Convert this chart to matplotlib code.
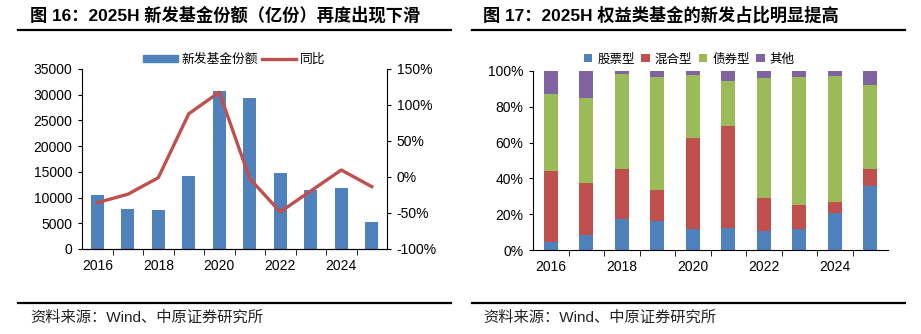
import matplotlib
matplotlib.use("Agg")
import matplotlib.pyplot as plt
from matplotlib.lines import Line2D
from matplotlib.patches import Patch

plt.rcParams['font.family'] = ['Liberation Sans', 'Noto Sans CJK SC', 'DejaVu Sans']

years = ['2016', '2017', '2018', '2019', '2020', '2021', '2022', '2023', '2024', '2025']
# 新发基金份额 (亿份) and 同比 (%)
shares = [10450, 7720, 7580, 14200, 30700, 29400, 14850, 11450, 11900, 5250]
yoy = [-35.6, -24.0, -1.0, 87.8, 117.8, -2.3, -48.5, -19.4, 9.7, -13.4]

# new-issue share by fund type (%)
stock = [4.3, 8.4, 17.3, 16.4, 11.7, 12.5, 10.6, 11.9, 20.6, 35.5]
mixed = [39.7, 29.3, 27.9, 16.9, 50.8, 57.0, 18.2, 13.4, 6.0, 9.9]
bond = [43.4, 47.3, 53.1, 63.5, 35.5, 25.1, 67.3, 71.4, 70.8, 46.6]
other = [12.6, 15.0, 1.7, 3.2, 2.0, 5.4, 3.9, 3.3, 2.6, 8.0]

c_blue = '#4F81BD'
c_red = '#C0504D'
c_green = '#9BBB59'
c_purple = '#8064A2'

W, H = 921, 334
fig = plt.figure(figsize=(W / 100, H / 100), dpi=100)

def box(x0, y0, x1, y1):
    return [x0 / W, 1 - y1 / H, (x1 - x0) / W, (y1 - y0) / H]

x = list(range(len(years)))
year_labels = [y if i % 2 == 0 else '' for i, y in enumerate(years)]

def style_x(ax):
    ax.set_xlim(-0.5, len(years) - 0.5)
    ax.set_xticks(x)
    ax.set_xticklabels(year_labels, fontsize=10)
    ax.set_xticks([i + 0.5 for i in x[:-1]], minor=True)
    ax.tick_params(axis='x', which='major', length=0, pad=7)
    ax.tick_params(axis='x', which='minor', length=4, direction='out')

# ---- left chart ----
ax = fig.add_axes(box(82, 69, 387, 249))
ax.bar(x, shares, width=0.42, color=c_blue, zorder=2)
ax.set_ylim(0, 35000)
ax.set_yticks(range(0, 35001, 5000))
ax.tick_params(axis='y', labelsize=10, length=3, pad=4)
style_x(ax)
ax.spines['top'].set_visible(False)
ax.spines['right'].set_visible(False)

ax2 = ax.twinx()
ax2.plot(x, yoy, color=c_red, lw=2.4, zorder=3)
ax2.set_ylim(-100, 150)
ax2.set_yticks(range(-100, 151, 50))
ax2.set_yticklabels([f'{v}%' for v in range(-100, 151, 50)])
ax2.tick_params(axis='y', labelsize=10, length=3, pad=4)
ax2.spines['top'].set_visible(False)
ax2.spines['left'].set_visible(False)

handles = [Patch(color=c_blue), Line2D([0], [0], color=c_red, lw=2.4)]
ax.legend(handles, ['新发基金份额', '同比'], loc='center', bbox_to_anchor=(0.5, 1.05),
          ncol=2, frameon=False, fontsize=9.2, handlelength=2.7, handleheight=0.55,
          handletextpad=0.3, columnspacing=0.3, borderaxespad=0)

# ---- right chart ----
bx = fig.add_axes(box(533, 71, 888, 250))
bottom = [0] * len(years)
for vals, col, name in [(stock, c_blue, '股票型'), (mixed, c_red, '混合型'),
                        (bond, c_green, '债券型'), (other, c_purple, '其他')]:
    bx.bar(x, vals, bottom=bottom, width=0.4, color=col, label=name, zorder=2)
    bottom = [b + v for b, v in zip(bottom, vals)]
bx.set_ylim(0, 100)
bx.set_yticks(range(0, 101, 20))
bx.set_yticklabels([f'{v}%' for v in range(0, 101, 20)])
bx.tick_params(axis='y', labelsize=10, length=3, pad=4)
style_x(bx)
bx.spines['top'].set_visible(False)
bx.spines['right'].set_visible(False)
bx.legend(loc='center', bbox_to_anchor=(0.44, 1.065), ncol=4, frameon=False, fontsize=9,
          handlelength=0.7, handleheight=0.7, handletextpad=0.4, columnspacing=0.5,
          borderaxespad=0)

# ---- titles, rules and sources ----
title_font = dict(fontsize=12.4, fontweight='bold', va='center', ha='left')
fig.text(30 / W, 1 - 15 / H, '图 16：2025H 新发基金份额（亿份）再度出现下滑', **title_font)
fig.text(483 / W, 1 - 15 / H, '图 17：2025H 权益类基金的新发占比明显提高', **title_font)

for (x0, x1) in [(18, 451), (472, 905)]:
    for yy in (30, 303):
        fig.add_artist(Line2D([x0 / W, x1 / W], [1 - yy / H, 1 - yy / H],
                              color='black', lw=1.6))

src_font = dict(fontsize=11, va='center', ha='left', color='#222222')
fig.text(30 / W, 1 - 318 / H, '资料来源：Wind、中原证券研究所', **src_font)
fig.text(483 / W, 1 - 318 / H, '资料来源：Wind、中原证券研究所', **src_font)

fig.savefig('out.png', dpi=100)
